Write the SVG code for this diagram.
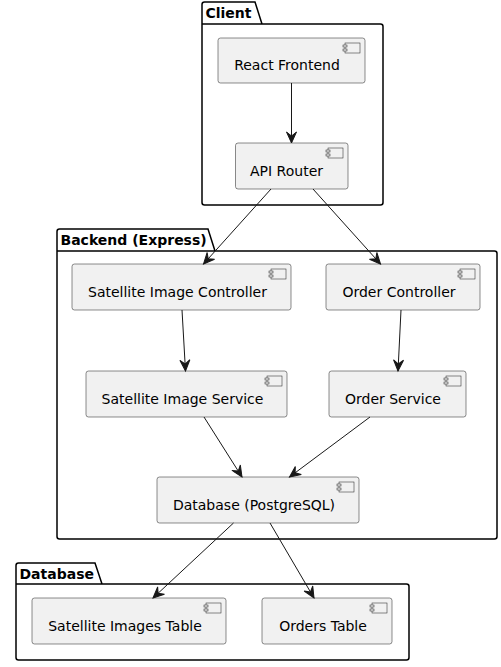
<svg xmlns="http://www.w3.org/2000/svg" width="501" height="667" viewBox="0 0 501 667">
<style>
.pkg{fill:none;stroke:#000;stroke-width:1.5}
.cmp{fill:#F1F1F1;stroke:#181818;stroke-width:0.5}
.ico{fill:#F1F1F1;stroke:#181818;stroke-width:0.5}
.lbl{font-family:"DejaVu Sans",sans-serif;font-size:14px;fill:#000;text-anchor:middle}
.ttl{font-family:"DejaVu Sans",sans-serif;font-size:14px;font-weight:bold;fill:#000}
.edge{stroke:#181818;stroke-width:1;fill:none}
</style>
<defs>
<marker id="arr" markerUnits="userSpaceOnUse" markerWidth="14" markerHeight="12" viewBox="-12 -6 14 12" refX="0" refY="0" orient="auto">
<path d="M0,0 L-11,-5 L-7,0 L-11,5 Z" fill="#181818" stroke="#181818" stroke-width="1"/>
</marker>
<g id="icon">
<rect x="0" y="0" width="15" height="10" class="ico"/>
<rect x="-2" y="2" width="4" height="2" class="ico"/>
<rect x="-2" y="6" width="4" height="2" class="ico"/>
</g>
</defs>
<g id="pkg-client">
<path class="pkg" d="M202,24 L202,4.5 A2.5,2.5 0 0 1 204.5,2 L255,2 L262,24 L380.5,24 A2.5,2.5 0 0 1 383,26.5 L383,202.5 A2.5,2.5 0 0 1 380.5,205 L204.5,205 A2.5,2.5 0 0 1 202,202.5 Z M202,24 L262,24"/>
<text class="ttl" x="205.5" y="18">Client</text>
</g>
<g id="pkg-backend">
<path class="pkg" d="M57,251 L57,231.5 A2.5,2.5 0 0 1 59.5,229 L208,229 L215,251 L494.5,251 A2.5,2.5 0 0 1 497,253.5 L497,536.5 A2.5,2.5 0 0 1 494.5,539 L59.5,539 A2.5,2.5 0 0 1 57,536.5 Z M57,251 L215,251"/>
<text class="ttl" x="60.5" y="245">Backend (Express)</text>
</g>
<g id="pkg-database">
<path class="pkg" d="M16,584 L16,565.5 A2.5,2.5 0 0 1 18.5,563 L95,563 L102,584 L406.5,584 A2.5,2.5 0 0 1 409,586.5 L409,657.5 A2.5,2.5 0 0 1 406.5,660 L18.5,660 A2.5,2.5 0 0 1 16,657.5 Z M16,584 L102,584"/>
<text class="ttl" x="19.5" y="579">Database</text>
</g>
<g id="react-frontend">
<rect class="cmp" x="218" y="38" width="147" height="45" rx="2.5"/>
<use href="#icon" x="345" y="43"/>
<text class="lbl" x="287" y="70">React Frontend</text>
</g>
<g id="api-router">
<rect class="cmp" x="235.5" y="143" width="112.5" height="46" rx="2.5"/>
<use href="#icon" x="328" y="148"/>
<text class="lbl" x="286.5" y="176">API Router</text>
</g>
<g id="sat-controller">
<rect class="cmp" x="72" y="264" width="219" height="46" rx="2.5"/>
<use href="#icon" x="271" y="269"/>
<text class="lbl" x="177.5" y="297">Satellite Image Controller</text>
</g>
<g id="order-controller">
<rect class="cmp" x="326" y="264" width="154" height="46" rx="2.5"/>
<use href="#icon" x="460" y="269"/>
<text class="lbl" x="399" y="297">Order Controller</text>
</g>
<g id="sat-service">
<rect class="cmp" x="86" y="371" width="201" height="46" rx="2.5"/>
<use href="#icon" x="267" y="376"/>
<text class="lbl" x="182.5" y="404">Satellite Image Service</text>
</g>
<g id="order-service">
<rect class="cmp" x="329" y="371" width="137" height="46" rx="2.5"/>
<use href="#icon" x="446" y="376"/>
<text class="lbl" x="393" y="404">Order Service</text>
</g>
<g id="db-postgres">
<rect class="cmp" x="157" y="477" width="202" height="46" rx="2.5"/>
<use href="#icon" x="339" y="482"/>
<text class="lbl" x="254" y="510">Database (PostgreSQL)</text>
</g>
<g id="sat-images-table">
<rect class="cmp" x="32" y="598" width="194" height="46" rx="2.5"/>
<use href="#icon" x="206" y="603"/>
<text class="lbl" x="125" y="631">Satellite Images Table</text>
</g>
<g id="orders-table">
<rect class="cmp" x="262" y="598" width="130" height="46" rx="2.5"/>
<use href="#icon" x="372" y="603"/>
<text class="lbl" x="323" y="631">Orders Table</text>
</g>
<g id="connectors">
<line class="edge" x1="291.5" y1="83" x2="291.5" y2="143" marker-end="url(#arr)"/>
<line class="edge" x1="271" y1="189" x2="203.5" y2="264" marker-end="url(#arr)"/>
<line class="edge" x1="313" y1="189" x2="380.5" y2="264" marker-end="url(#arr)"/>
<line class="edge" x1="182" y1="310" x2="185.5" y2="371" marker-end="url(#arr)"/>
<line class="edge" x1="401" y1="310" x2="398" y2="371" marker-end="url(#arr)"/>
<line class="edge" x1="204" y1="417" x2="242" y2="477" marker-end="url(#arr)"/>
<line class="edge" x1="370" y1="417" x2="289.5" y2="477" marker-end="url(#arr)"/>
<line class="edge" x1="233.5" y1="523" x2="153" y2="598" marker-end="url(#arr)"/>
<line class="edge" x1="270" y1="523" x2="314" y2="598" marker-end="url(#arr)"/>
</g>
</svg>
